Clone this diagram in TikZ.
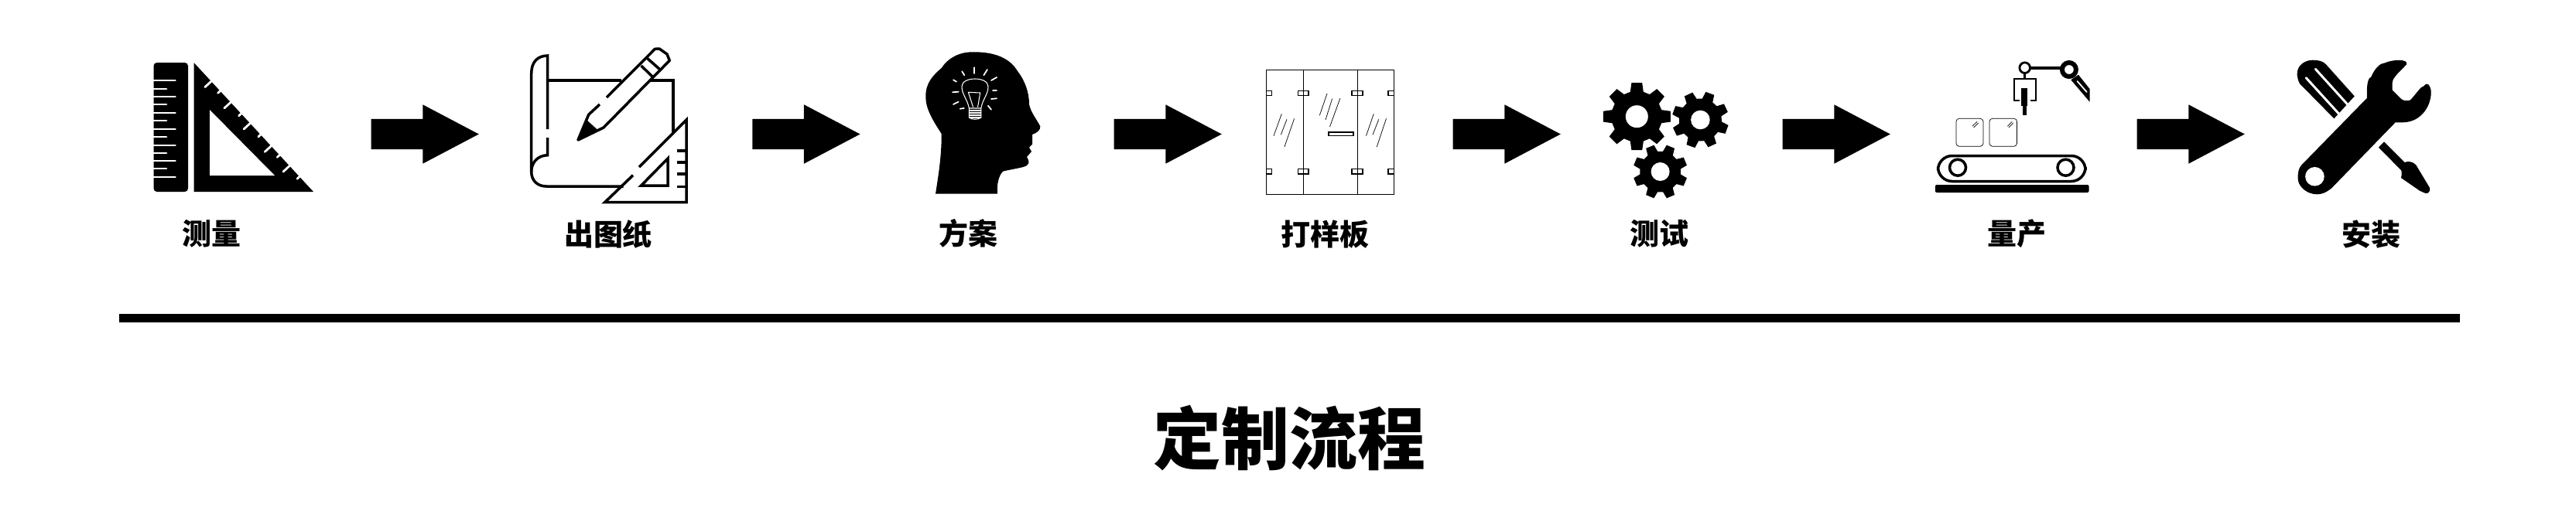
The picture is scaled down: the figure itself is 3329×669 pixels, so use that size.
\documentclass[tikz,border=0pt]{standalone}
\usepackage{fontspec}
\usetikzlibrary{shapes.arrows}
\newfontfamily\cjkheavy{Noto Sans CJK SC}[UprightFont=* Black]
\tikzset{
  steplabel/.style={font=\cjkheavy\fontsize{10.8pt}{12pt}\selectfont,inner sep=0pt},
  titlelabel/.style={font=\cjkheavy\fontsize{25pt}{28pt}\selectfont,inner sep=0pt},
  blockarrow/.style={single arrow,anchor=tail,fill=black,draw=none,inner sep=0pt,text height=.38cm,text depth=0pt,minimum height=1.39cm,minimum width=.75cm,
    single arrow head extend=.185cm,single arrow tip angle=55.6,single arrow head indent=0pt},
  iconline/.style={line width=1pt},
  thinline/.style={line width=.35pt},
  hairline/.style={line width=.2pt},
  whitetick/.style={white,line width=.8pt,line cap=round},
  whiteline/.style={white,line width=.3pt,line cap=round},
  rulebar/.style={line width=3.2pt},
}
\newcommand{\gearicon}[5]{%
\begin{scope}[shift={(#1,#2)}]
\fill (#5-15:#3*.75) \foreach \i in {0,...,7} {
  -- ({#5+45*\i-15}:#3*.75) -- ({#5+45*\i-9}:#3) -- ({#5+45*\i+9}:#3) -- ({#5+45*\i+15}:#3*.75) } -- cycle;
\fill[white] (0,0) circle (#4);
\end{scope}}
\begin{document}
\begin{tikzpicture}[x=0.01cm,y=-0.01cm]
\useasboundingbox (0,0) rectangle (3329,669);
\path (273.6,302) node[steplabel] (measure) {测量}
	(786,303) node[steplabel] (drawing) {出图纸}
	(1251,302) node[steplabel] (scheme) {方案}
	(1712.4,303) node[steplabel] (sample) {打样板}
	(2144,302.7) node[steplabel] (testing) {测试}
	(2606,302) node[steplabel] (batch) {量产}
	(3064,303) node[steplabel] (install) {安装}
	(1666.7,566.7) node[titlelabel] (title) {定制流程}
	(479,173.5) node[blockarrow] (arrowa) {}
	(971.7,173.5) node[blockarrow] (arrowb) {}
	(1439,173.5) node[blockarrow] (arrowc) {}
	(1877,173.5) node[blockarrow] (arrowd) {}
	(2303,173.5) node[blockarrow] (arrowe) {}
	(2761,173.5) node[blockarrow] (arrowf) {}
	;
\coordinate (barleft) at (153.7,411.7);
\coordinate (barright) at (3178.7,411.7);
\draw[rulebar] (barleft) -- (barright);

% measure
\fill[rounded corners=1.2pt] (198.5,81) rectangle (243,248);
\foreach \y in {104,125,146,167,188,208,229} \draw[whitetick] (195,\y) -- (226.5,\y);
\foreach \y in {115,135,156,177,198,218} \draw[whitetick] (195,\y) -- (215,\y);
\fill (250.5,81) -- (405,248) -- (250.5,248) -- cycle;
\fill[white] (271,142) -- (271,227) -- (355,227) -- cycle;
\foreach \a/\d in {33/11,50/4,70/11,90/4,107/11,127/4,147/11,163/4,182/11,201/4}
  \draw[whitetick] ({250.5+.679*\a+.734*3},{81+.734*\a-.679*3}) -- ++({-.734*(\d+3)},{.679*(\d+3)});

% drawing
\draw[iconline] (707.7,167) -- (707.7,72) .. controls (695,72) and (686.7,80) .. (686.7,95) -- (686.7,222) .. controls (686.7,234) and (695,241) .. (706,241) -- (805.6,241);
\draw[iconline] (707.7,178) -- (707.7,200.7) .. controls (695,201) and (686.7,210) .. (686.7,222);
\draw[iconline] (707.7,104) -- (803,104);
\draw[iconline] (839,104) -- (870,104) -- (870,172);
\draw[iconline,line join=round] (775,135) -- (760.7,148.3) -- (747,181) -- (780,165) -- (865.3,78.3) -- (862,70) -- (852,63) -- (846.4,63.3) -- (784,126);
\fill (747,181) -- (758,155) -- (773.5,169) -- cycle;
\draw[iconline] (828.6,85) -- (844,100);
\draw[iconline] (836,75) -- (853,90);
\draw[iconline] (826,216) -- (887,155) -- (887,261.7) -- (781.6,261.7) -- (818,226.7);
\draw[iconline] (863,205) -- (863,240) -- (828.6,240) -- cycle;
\foreach \y in {195,210,225,241.7} \draw[iconline] (874.5,\y) -- (887,\y);

% scheme
\fill (1209,250.7) .. controls (1213,225) and (1217,200) .. (1216.7,173)
  .. controls (1205,155) and (1196,140) .. (1196.3,125)
  .. controls (1196,108) and (1205,98) .. (1216.7,88)
  .. controls (1225,75) and (1240,67) .. (1257.6,67.3)
  .. controls (1285,67) and (1305,75) .. (1315,92)
  .. controls (1325,105) and (1330,120) .. (1330,135)
  .. controls (1332,145) and (1340,155) .. (1344.3,163.3)
  .. controls (1345,168) and (1340,172) .. (1334,174)
  -- (1334,186.7) -- (1330,190.7) -- (1333,196) -- (1327,203)
  .. controls (1329,207) and (1331,210) .. (1328,213)
  .. controls (1325,217) and (1310,218) .. (1296,221.7)
  .. controls (1290,228) and (1288,240) .. (1289,250.7) -- cycle;
\draw[whiteline] (1252.4,140) .. controls (1250,128) and (1243,122) .. (1243,112) .. controls (1243,106) and (1250,102) .. (1260,102) .. controls (1270,102) and (1277,106) .. (1277,112) .. controls (1277,122) and (1270,128) .. (1267.8,140) -- cycle;
\draw[whiteline] (1251.4,119.3) -- (1257.5,138.3);
\draw[whiteline] (1266.7,120) -- (1263.6,138.3);
\draw[whiteline] (1251.4,119.3) -- (1266.7,120);
\foreach \y in {143,146,149,152} \draw[whiteline] (1252.4,\y) -- (1267.8,\y);
\draw[whiteline] (1252.4,140) -- (1252.4,152) .. controls (1255,155) and (1265,155) .. (1267.8,152) -- (1267.8,140);
\foreach \xa/\ya/\xb/\yb in {1259/87.3/1259/95,1243.2/92.3/1246.3/97.3,1275.9/90/1271.3/97.3,1288.1/100/1281/104,1232/103.3/1236/105.7,1231/119.3/1238.6/118.7,1283/117.3/1288/117.3,1281/128/1288/127.3,1232/135/1238.6/131.7,1240.7/140.7/1245.8/140,1276.9/136.7/1281/141.7}
  \draw[white,line width=.5pt,line cap=round] (\xa,\ya) -- (\xb,\yb);

% sample
\draw[thinline] (1636.4,90.7) rectangle (1801.2,251.3);
\draw[thinline] (1684.4,90.7) -- (1684.4,251.3);
\draw[thinline] (1754.2,90.7) -- (1754.2,251.3);
\foreach \ya/\yb in {117.3/123.3,218.7/225} {
  \draw[thinline] (1636.4,\ya) rectangle (1643.6,\yb);
  \draw[thinline] (1677.2,\ya) rectangle (1691,\yb);
  \draw[thinline] (1747,\ya) rectangle (1761,\yb);
  \draw[thinline] (1794,\ya) rectangle (1801.2,\yb);
}
\draw[thinline] (1717,171) rectangle (1749,175.7);
\foreach \xa/\ya/\xb/\yb in {1715/121/1705.3/149.3,1721.6/127.7/1713/155,1731.8/127.3/1718.5/164,1656.3/147.3/1646/175.7,1663/154.3/1655.3/174.3,1672.6/153.3/1659.9/190,1775.2/147.3/1765.5/175.7,1781.8/154.3/1774/174.3,1791.5/153.3/1779.2/190}
  \draw[hairline] (\xa,\ya) -- (\xb,\yb);

% testing
\gearicon{2115.3}{150.7}{44}{14.5}{0}
\gearicon{2197.4}{155}{36.8}{12.3}{20}
\gearicon{2145.6}{222}{35.3}{12}{22.5}

% batch
\fill[rounded corners=.6pt] (2500.8,249) -- (2500.8,239) -- (2699.6,239) -- (2699.6,249) -- cycle;
\draw[iconline,rounded corners=5.2pt] (2504.5,201.5) rectangle (2695,234.5);
\draw[iconline] (2530,216.7) circle (10.5);
\draw[iconline] (2669.5,216.7) circle (10.5);
\draw[hairline,rounded corners=1.1pt] (2528,153.3) rectangle (2562.9,189.3);
\draw[hairline,rounded corners=1.1pt] (2571,153.3) rectangle (2606.5,189.3);
\draw[hairline] (2555,157.3) -- (2548.8,163.3);
\draw[hairline] (2556.5,159) -- (2550.5,165);
\draw[hairline] (2600.2,157.3) -- (2594.4,163.3);
\draw[hairline] (2601.7,159) -- (2595.9,165);
\draw[line width=1.1pt] (2616.7,87.7) -- (2673.9,87.7);
\draw[line width=.85pt] (2616.7,95) -- (2616.7,101.7);
\fill (2676.3,103.3) -- (2686,96.7) -- (2700.5,115) -- (2700.5,131.7) -- cycle;
\draw[whitetick,line width=.5pt] (2684.5,105) -- (2696.7,119);
\filldraw[fill=white,line width=.8pt] (2616.7,87.7) circle (6.8);
\filldraw[fill=white,line width=1.7pt] (2673.9,90) circle (9);
\draw[line width=.6pt] (2610,130) -- (2603,130) -- (2603,101.7) -- (2630.7,101.7) -- (2630.7,130) -- (2624,130);
\fill (2612.3,114.3) rectangle (2619.6,136.7);
\fill (2613.8,136) rectangle (2618.6,148.7);

% install
\fill (2968.6,96.7) .. controls (2968,85) and (2978,77.7) .. (2989,77.7) .. controls (2996,77.7) and (3002,79) .. (3005.9,83.3)
  -- (3047.1,129.3) -- (3019,156) -- (2972,108.3) .. controls (2970,105) and (2969,100) .. (2968.6,96.7) -- cycle;
\draw[white,line width=.85pt,line cap=round] (2992.3,89.3) -- (3040,142);
\draw[white,line width=.85pt,line cap=round] (2980.2,100.7) -- (3026,151);
\fill[white] (3047,120) -- (3060,125) -- (3030,165) -- (3015,155) -- cycle;
\fill (2974.4,213.3) -- (3059,126.7) .. controls (3058,112) and (3060,100) .. (3064,100) .. controls (3068,90) and (3075,82) .. (3081,81.7)
  .. controls (3090,78) and (3100,77) .. (3105.3,78.3) .. controls (3110,79) and (3111,82) .. (3110,83.3)
  .. controls (3102,92) and (3092,100) .. (3091.7,106.7) -- (3091.7,116.7)
  -- (3103,128) .. controls (3106,130.5) and (3112,131) .. (3115,129.3)
  .. controls (3122,122) and (3128,112) .. (3132,111.7) .. controls (3137,105) and (3140,110) .. (3141.6,116.7)
  .. controls (3143,135) and (3130,158) .. (3105.3,158.3) -- (3095.6,158.3)
  -- (3013.2,243.3) .. controls (3005,250) and (2999,251.5) .. (2993.8,251.3)
  .. controls (2980,251) and (2969,240) .. (2969.6,230)
  .. controls (2969.5,222) and (2971,217) .. (2974.4,213.3) -- cycle;
\fill[white] (2991.4,228.3) circle (12.3);
\fill (3081,183.3) -- (3107.6,210) .. controls (3112,208) and (3118,209) .. (3122.2,213.3)
  -- (3140.2,243.3) .. controls (3141,247) and (3138,251) .. (3134.4,250)
  -- (3127,246.7) -- (3102.9,230) .. controls (3104,226) and (3104,222) .. (3102.9,220) -- (3073.8,190.7) -- cycle;
\end{tikzpicture}
\end{document}
